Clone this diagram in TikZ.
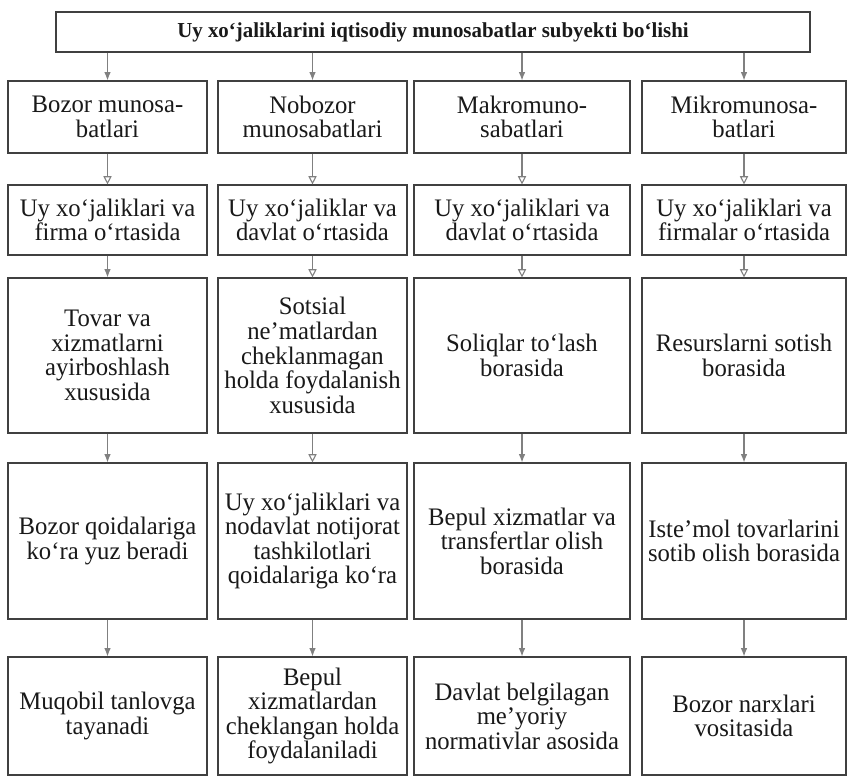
\documentclass[tikz,border=0pt]{standalone}
\usepackage{fontspec}
\setmainfont{Liberation Serif}[FakeStretch=0.98]
\usetikzlibrary{arrows.meta}
\begin{document}
\begin{tikzpicture}[x=0.03cm,y=-0.03cm,
    box/.style={draw=black!75,line width=1pt,align=center,inner sep=2pt,
        text=black!90,font=\fontsize{21.5}{21}\selectfont},
    w1/.style={minimum width=5.97cm},
    w2/.style={minimum width=5.67cm},
    w3/.style={minimum width=6.48cm},
    w4/.style={minimum width=6.12cm},
    h1/.style={minimum height=2.16cm},
    h2/.style={minimum height=2.1cm},
    h3/.style={minimum height=4.65cm},
    h4/.style={minimum height=4.68cm},
    h5/.style={minimum height=3.54cm},
    fillarrow/.style={draw=black!50,line width=0.9pt,-{Latex[length=7pt,width=5.5pt]}},
    openarrow/.style={draw=black!50,line width=0.9pt,-{Triangle[open,length=7pt,width=7pt]}}]
    \fill[white] (0,0) rectangle (851,777);
    \useasboundingbox (0,0) rectangle (851,777);
    \node[box,minimum width=22.62cm,minimum height=1.2cm,font=\fontsize{18.2}{20}\selectfont\bfseries] (T) at (433,32) {Uy xo‘jaliklarini iqtisodiy munosabatlar subyekti bo‘lishi};
    \node[box,w1,h1] (A1) at (107.5,117) {Bozor munosa-\\batlari};
    \node[box,w2,h1] (A2) at (312.5,117) {Nobozor\\munosabatlari};
    \node[box,w3,h1] (A3) at (522,117) {Makromuno-\\sabatlari};
    \node[box,w4,h1] (A4) at (744,117) {Mikromunosa-\\batlari};
    \node[box,w1,h2] (B1) at (107.5,220) {Uy xo‘jaliklari va\\firma o‘rtasida};
    \node[box,w2,h2] (B2) at (312.5,220) {Uy xo‘jaliklar va\\davlat o‘rtasida};
    \node[box,w3,h2] (B3) at (522,220) {Uy xo‘jaliklari va\\davlat o‘rtasida};
    \node[box,w4,h2] (B4) at (744,220) {Uy xo‘jaliklari va\\firmalar o‘rtasida};
    \node[box,w1,h3] (C1) at (107.5,355.5) {Tovar va\\xizmatlarni\\ayirboshlash\\xususida};
    \node[box,w2,h3] (C2) at (312.5,355.5) {Sotsial\\ne’matlardan\\cheklanmagan\\holda foydalanish\\xususida};
    \node[box,w3,h3] (C3) at (522,355.5) {Soliqlar to‘lash\\borasida};
    \node[box,w4,h3] (C4) at (744,355.5) {Resurslarni sotish\\borasida};
    \node[box,w1,h4] (D1) at (107.5,541) {Bozor qoidalariga\\ko‘ra yuz beradi};
    \node[box,w2,h4] (D2) at (312.5,541) {Uy xo‘jaliklari va\\nodavlat notijorat\\tashkilotlari\\qoidalariga ko‘ra};
    \node[box,w3,h4] (D3) at (522,541) {Bepul xizmatlar va\\transfertlar olish\\borasida};
    \node[box,w4,h4] (D4) at (744,541) {Iste’mol tovarlarini\\sotib olish borasida};
    \node[box,w1,h5] (E1) at (107.5,716) {Muqobil tanlovga\\tayanadi};
    \node[box,w2,h5] (E2) at (312.5,716) {Bepul\\xizmatlardan\\cheklangan holda\\foydalaniladi};
    \node[box,w3,h5] (E3) at (522,716) {Davlat belgilagan\\me’yoriy\\normativlar asosida};
    \node[box,w4,h5] (E4) at (744,716) {Bozor narxlari\\vositasida};
    \draw[fillarrow] (T.south -| A1.north) -- (A1.north);
    \draw[fillarrow] (T.south -| A2.north) -- (A2.north);
    \draw[fillarrow] (T.south -| A3.north) -- (A3.north);
    \draw[fillarrow] (T.south -| A4.north) -- (A4.north);
    \draw[openarrow] (A1) -- (B1);
    \draw[openarrow] (A2) -- (B2);
    \draw[openarrow] (A3) -- (B3);
    \draw[openarrow] (A4) -- (B4);
    \draw[fillarrow] (B1) -- (C1);
    \draw[openarrow] (B2) -- (C2);
    \draw[openarrow] (B3) -- (C3);
    \draw[openarrow] (B4) -- (C4);
    \draw[fillarrow] (C1) -- (D1);
    \draw[openarrow] (C2) -- (D2);
    \draw[fillarrow] (C3) -- (D3);
    \draw[fillarrow] (C4) -- (D4);
    \draw[fillarrow] (D1) -- (E1);
    \draw[fillarrow] (D2) -- (E2);
    \draw[fillarrow] (D3) -- (E3);
    \draw[fillarrow] (D4) -- (E4);
\end{tikzpicture}
\end{document}
